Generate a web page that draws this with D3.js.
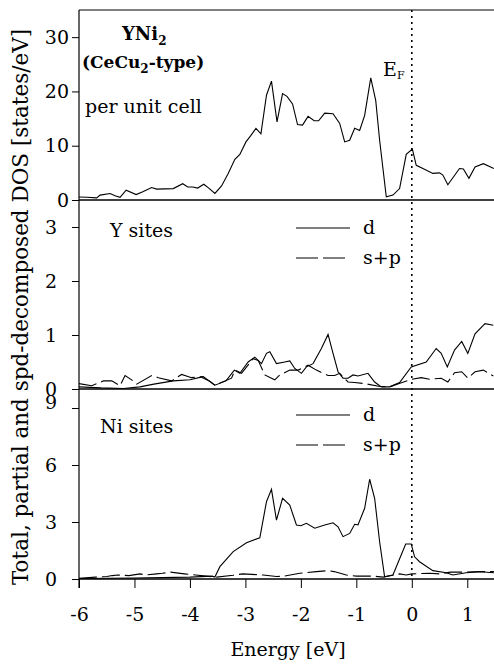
<!DOCTYPE html>
<html>
<head>
<meta charset="utf-8">
<script src="https://cdn.jsdelivr.net/npm/d3@7"></script>
<style>
  body { margin: 0; background: #fff; }
  svg { display: block; }
</style>
</head>
<body>
<div id="chart"></div>
<script>
// total DOS per unit cell
var totalE = [-6, -5.86, -5.68, -5.62, -5.44, -5.35, -5.26, -5.15, -4.97, -4.85, -4.69, -4.6, -4.3, -4.13, -4.04, -3.95, -3.86, -3.75, -3.66, -3.55, -3.43, -3.31, -3.19, -3.1, -2.99, -2.9, -2.81, -2.72, -2.62, -2.53, -2.43, -2.33, -2.25, -2.15, -2.06, -1.97, -1.87, -1.76, -1.68, -1.57, -1.42, -1.3, -1.21, -1.12, -1.03, -0.94, -0.85, -0.74, -0.65, -0.58, -0.46, -0.34, -0.22, -0.1, 0.01, 0.08, 0.2, 0.38, 0.5, 0.56, 0.65, 0.86, 0.93, 1.03, 1.14, 1.29, 1.48];
var totalDOS = [0.55, 0.5, 0.4, 0.9, 1.2, 0.8, 0.5, 1.8, 1.0, 1.5, 2.3, 2.0, 2.1, 3.0, 2.4, 2.4, 2.2, 2.9, 2.2, 1.2, 2.6, 4.9, 7.5, 8.4, 10.7, 11.9, 13.2, 12.2, 19.3, 21.9, 14.4, 19.6, 19.1, 17.7, 13.9, 13.8, 15.4, 14.6, 14.6, 16.0, 15.9, 14.1, 10.7, 11.0, 13.2, 12.8, 15.6, 22.5, 18.3, 11.0, 0.6, 0.9, 2.1, 8.4, 9.4, 6.4, 5.8, 4.9, 5.0, 4.6, 2.8, 5.8, 5.7, 4.0, 6.1, 6.7, 5.8];

// Y sites
var yDE = [-6, -5.6, -5.2, -4.9, -4.65, -4.3, -4.0, -3.8, -3.65, -3.55, -3.35, -3.2, -3.1, -2.95, -2.83, -2.71, -2.62, -2.56, -2.44, -2.29, -2.2, -2.11, -1.99, -1.9, -1.78, -1.63, -1.51, -1.42, -1.33, -1.24, -1.15, -1.06, -0.97, -0.79, -0.67, -0.55, -0.4, -0.22, -0.01, 0.26, 0.44, 0.53, 0.64, 0.77, 0.9, 1.01, 1.14, 1.32, 1.47];
var yD = [0.04, 0.02, 0.01, 0.04, 0.09, 0.15, 0.17, 0.22, 0.15, 0.07, 0.15, 0.35, 0.29, 0.5, 0.59, 0.47, 0.66, 0.69, 0.47, 0.5, 0.52, 0.38, 0.29, 0.41, 0.47, 0.75, 1.01, 0.66, 0.32, 0.2, 0.2, 0.26, 0.24, 0.29, 0.13, 0.04, 0.04, 0.12, 0.41, 0.5, 0.75, 0.66, 0.41, 0.72, 0.88, 0.66, 1.02, 1.21, 1.18];
var ySpE = [-6, -5.77, -5.56, -5.41, -5.26, -5.17, -5.05, -4.96, -4.69, -4.57, -4.33, -4.15, -3.97, -3.76, -3.55, -3.25, -3.19, -3.07, -2.86, -2.77, -2.65, -2.53, -2.47, -2.38, -2.2, -2.05, -1.87, -1.72, -1.6, -1.51, -1.39, -1.3, -1.15, -1.03, -0.85, -0.6, -0.4, -0.2, 0.0, 0.17, 0.32, 0.53, 0.65, 0.77, 0.9, 1.01, 1.14, 1.29, 1.47];
var ySp = [0.1, 0.06, 0.15, 0.15, 0.06, 0.25, 0.17, 0.09, 0.25, 0.21, 0.15, 0.27, 0.21, 0.23, 0.07, 0.2, 0.35, 0.29, 0.56, 0.53, 0.26, 0.2, 0.17, 0.26, 0.35, 0.35, 0.44, 0.35, 0.29, 0.25, 0.25, 0.29, 0.13, 0.12, 0.1, 0.05, 0.04, 0.11, 0.18, 0.21, 0.18, 0.2, 0.13, 0.3, 0.32, 0.2, 0.32, 0.35, 0.24];

// Ni sites
var niDE = [-6, -5, -4, -3.6, -3.55, -3.46, -3.22, -2.98, -2.74, -2.62, -2.53, -2.44, -2.33, -2.2, -2.08, -2.0, -1.9, -1.75, -1.57, -1.42, -1.33, -1.24, -1.12, -1.03, -0.97, -0.85, -0.76, -0.67, -0.58, -0.49, -0.34, -0.11, -0.01, 0.05, 0.14, 0.38, 0.62, 0.74, 0.98, 1.23, 1.48];
var niD = [0.03, 0.05, 0.1, 0.15, 0.1, 0.65, 1.44, 1.91, 2.17, 4.07, 4.72, 3.1, 4.25, 3.89, 2.84, 2.8, 2.93, 2.67, 2.84, 2.96, 2.75, 2.23, 2.4, 2.88, 2.85, 3.72, 5.25, 4.25, 1.96, 0.12, 0.21, 1.84, 1.84, 1.17, 0.91, 0.44, 0.33, 0.21, 0.33, 0.38, 0.33];
var niSpE = [-6, -5.7, -5.5, -5.4, -5.3, -5.1, -4.9, -4.8, -4.6, -4.5, -4.35, -4.1, -3.9, -3.7, -3.52, -3.22, -3.05, -2.68, -2.44, -2.3, -2.02, -1.72, -1.51, -1.4, -1.18, -1.0, -0.7, -0.52, -0.22, -0.1, 0.0, 0.32, 0.5, 0.7, 1.0, 1.2, 1.48];
var niSp = [0.04, 0.1, 0.13, 0.18, 0.21, 0.18, 0.27, 0.21, 0.27, 0.3, 0.36, 0.27, 0.21, 0.15, 0.1, 0.2, 0.27, 0.21, 0.13, 0.15, 0.3, 0.39, 0.44, 0.39, 0.21, 0.15, 0.15, 0.1, 0.27, 0.21, 0.27, 0.3, 0.27, 0.36, 0.36, 0.39, 0.39];

var xTicks = [-6, -5, -4, -3, -2, -1, 0, 1];
var topTicks = [0, 10, 20, 30];
var midTicks = [0, 1, 2, 3];
var botTicks = [0, 3, 6, 9];

var serif = '"DejaVu Serif", "Liberation Serif", "Times New Roman", serif';
var width = 494, height = 668;
var plotLeft = 79, plotRight = 495, plotTop = 10;

var svg = d3.select("#chart").append("svg")
    .attr("width", width)
    .attr("height", height)
    .attr("font-family", serif);

var x = d3.scaleLinear().domain([-6, 1.5]).range([plotLeft, plotRight]);
var yTop = d3.scaleLinear().domain([0, 35]).range([200, plotTop]);
var yMid = d3.scaleLinear().domain([0, 3.5]).range([389, 200]);
var yBot = d3.scaleLinear().domain([0, 10]).range([579, 389]);

function pairs(es, vs) {
    return es.map(function(e, i) { return [e, vs[i]]; });
}

function drawLine(yScale, es, vs, dash) {
    var line = d3.line()
        .x(function(d) { return x(d[0]); })
        .y(function(d) { return yScale(d[1]); });
    svg.append("path")
        .datum(pairs(es, vs))
        .attr("fill", "none")
        .attr("stroke", "#000")
        .attr("stroke-width", 1.1)
        .attr("stroke-dasharray", dash || null)
        .attr("d", line);
}

function label(xp, yp, size, txt) {
    return svg.append("text")
        .attr("x", xp).attr("y", yp)
        .style("font-family", serif)
        .style("font-size", size + "px")
        .text(txt);
}

// frame: top border, left axis, panel baselines
svg.append("line")
    .attr("x1", plotLeft).attr("x2", width).attr("y1", plotTop).attr("y2", plotTop)
    .attr("stroke", "#000").attr("stroke-width", 1.2);
svg.append("line")
    .attr("x1", plotLeft).attr("x2", plotLeft).attr("y1", plotTop).attr("y2", 588)
    .attr("stroke", "#000").attr("stroke-width", 1.2);
[yTop, yMid, yBot].forEach(function(s) {
    svg.append("line")
        .attr("x1", plotLeft).attr("x2", width)
        .attr("y1", s(0)).attr("y2", s(0))
        .attr("stroke", "#000").attr("stroke-width", 1.3);
});

// Fermi level
svg.append("line")
    .attr("x1", x(0)).attr("x2", x(0))
    .attr("y1", plotTop).attr("y2", yBot(0))
    .attr("stroke", "#000").attr("stroke-width", 1.6)
    .attr("stroke-dasharray", "2,4");

// y axes
function yAxis(scale, ticks, pad) {
    var g = svg.append("g")
        .attr("transform", "translate(" + plotLeft + ",0)")
        .call(d3.axisLeft(scale).tickValues(ticks).tickSize(7).tickPadding(pad)
            .tickFormat(function(d) { return String(d); }));
    g.attr("font-family", serif);
    g.select(".domain").remove();
    g.selectAll("text").style("font-size", "19px").style("font-family", serif);
    return g;
}
yAxis(yTop, topTicks, 3);
yAxis(yMid, midTicks, 15);
var gBot = yAxis(yBot, botTicks, 15);
// top label of the lower panel sits a bit higher, clear of the "0" above
gBot.selectAll(".tick text").filter(function(d) { return d === 9; }).attr("dy", "0.05em");

// x axis
var gx = svg.append("g")
    .attr("transform", "translate(0," + yBot(0) + ")")
    .call(d3.axisBottom(x).tickValues(xTicks).tickSize(9).tickPadding(20)
        .tickFormat(function(d) { return String(d); }));
gx.attr("font-family", serif);
gx.select(".domain").remove();
gx.selectAll("text").style("font-size", "19px").style("font-family", serif);

// curves
drawLine(yTop, totalE, totalDOS);
drawLine(yMid, yDE, yD);
drawLine(yMid, ySpE, ySp, "18,5");
drawLine(yBot, niDE, niD);
drawLine(yBot, niSpE, niSp, "18,5");

// labels
var t1 = label(122, 40, 18, null).style("font-weight", "bold");
t1.append("tspan").text("YNi");
t1.append("tspan").attr("dy", 5).style("font-size", "12px").text("2");

var t2 = label(82, 68, 17, null).style("font-weight", "bold");
t2.append("tspan").text("(CeCu");
t2.append("tspan").attr("dy", 5).style("font-size", "12px").text("2");
t2.append("tspan").attr("dy", -5).text("-type)");

label(85, 113, 19, "per unit cell");

var ef = label(383, 76, 19, null);
ef.append("tspan").text("E");
ef.append("tspan").attr("dy", 3).style("font-size", "11px").text("F");

label(110, 237, 19, "Y sites");
label(100, 433, 19, "Ni sites");

// legends
function legend(yd, ys) {
    svg.append("line").attr("x1", 296).attr("x2", 350).attr("y1", yd).attr("y2", yd)
        .attr("stroke", "#000").attr("stroke-width", 1.1);
    svg.append("line").attr("x1", 296).attr("x2", 350).attr("y1", ys).attr("y2", ys)
        .attr("stroke", "#000").attr("stroke-width", 1.1).attr("stroke-dasharray", "22,5");
    label(363, yd + 6, 19, "d");
    label(363, ys + 6, 19, "s+p");
}
legend(228, 258);
legend(415, 445);

// axis titles
label(0, 0, 21.5, "Total, partial and spd-decomposed DOS [states/eV]")
    .attr("transform", "translate(28,307) rotate(-90)")
    .attr("text-anchor", "middle");

label(288, 656, 19, "Energy [eV]")
    .attr("text-anchor", "middle");
</script>
</body>
</html>
